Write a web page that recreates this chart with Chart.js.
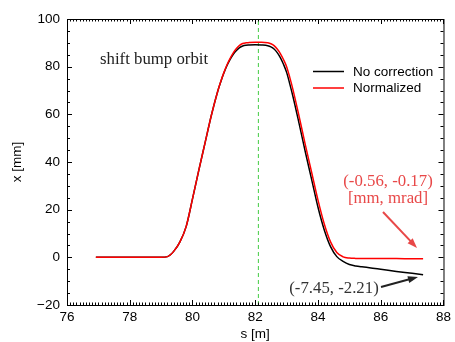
<!DOCTYPE html>
<html>
<head>
<meta charset="utf-8">
<script src="https://cdn.jsdelivr.net/npm/chart.js@4.4.1/dist/chart.umd.min.js"></script>
<style>
html,body{margin:0;padding:0;background:#fff;}
</style>
</head>
<body>
<canvas id="orbit" width="455" height="342"></canvas>
<script>
// position along the line [m]
const sPos = [76.92, 78.0, 79.0, 79.2, 79.4, 79.6, 79.8, 80.0, 80.2, 80.4, 80.6, 80.8, 80.9, 81.0, 81.1, 81.2, 81.3, 81.4, 81.5, 81.6, 81.7, 81.8, 82.0, 82.2, 82.4, 82.5, 82.6, 82.7, 82.8, 82.9, 83.0, 83.1, 83.2, 83.4, 83.6, 83.8, 84.0, 84.2, 84.4, 84.6, 84.8, 85.0, 85.2, 85.4, 86.0, 86.5, 87.0, 87.35];
// orbit x [mm]
const noCorrection = [0, 0, 0, 0.3, 2.5, 6.5, 13, 24.5, 36.5, 48, 59.5, 69.5, 73.6, 77.3, 80.5, 83.1, 85.2, 86.8, 88.0, 88.7, 89.0, 89.1, 89.2, 89.1, 88.8, 88.3, 87.4, 85.9, 83.8, 81.0, 77.6, 72.8, 67.6, 56, 44, 32.5, 21, 11.5, 4.5, 0.3, -1.7, -3.0, -3.6, -4.0, -5.0, -5.9, -6.7, -7.3];
const normalized = [0, 0, 0, 0.3, 2.5, 6.5, 13, 24.5, 36.5, 48, 59.5, 69.5, 73.8, 77.5, 80.8, 83.5, 85.8, 87.6, 88.9, 89.7, 90.0, 90.1, 90.2, 90.2, 90.0, 89.6, 88.8, 87.4, 85.5, 83.0, 80.0, 75.5, 70.5, 59, 47, 35.5, 24, 14, 6.5, 2, 0.2, -0.3, -0.45, -0.5, -0.52, -0.54, -0.55, -0.56];
const centerS = 82.1;
const xTicks = [76, 78, 80, 82, 84, 86, 88];
const yTicks = [-20, 0, 20, 40, 60, 80, 100];
const seriesNames = ['No correction', 'Normalized'];

const toPts = (ys) => ys.map((y, i) => ({x: sPos[i], y: y}));

Chart.defaults.font.family = "'Liberation Sans', Arial, sans-serif";
Chart.defaults.font.size = 13.5;
Chart.defaults.color = '#000';

function arrow(ctx, x1, y1, x2, y2, color) {
  const a = Math.atan2(y2 - y1, x2 - x1);
  const len = 10, w = 3.5;
  ctx.save();
  ctx.strokeStyle = color; ctx.fillStyle = color; ctx.lineWidth = 2;
  ctx.beginPath();
  ctx.moveTo(x1, y1);
  ctx.lineTo(x2 - len * Math.cos(a) * 0.8, y2 - len * Math.sin(a) * 0.8);
  ctx.stroke();
  ctx.beginPath();
  ctx.moveTo(x2, y2);
  ctx.lineTo(x2 - len * Math.cos(a) + w * Math.sin(a), y2 - len * Math.sin(a) - w * Math.cos(a));
  ctx.lineTo(x2 - len * Math.cos(a) - w * Math.sin(a), y2 - len * Math.sin(a) + w * Math.cos(a));
  ctx.closePath();
  ctx.fill();
  ctx.restore();
}

// frame with inward ticks, axis titles, legend and notes
const framePlugin = {
  id: 'frame',
  afterDraw(chart) {
    const ctx = chart.ctx;
    const a = chart.chartArea;
    const xs = chart.scales.x, ys = chart.scales.y;
    ctx.save();
    ctx.strokeStyle = '#000';
    ctx.lineWidth = 1;
    ctx.strokeRect(a.left + 0.5, a.top + 0.5, a.right - a.left, a.bottom - a.top);
    ctx.beginPath();
    for (let i = 760; i <= 880; i++) {
      const px = Math.round(xs.getPixelForValue(i / 10)) + 0.5;
      const l = i % 20 === 0 ? 5 : 2.5;
      ctx.moveTo(px, a.bottom); ctx.lineTo(px, a.bottom - l);
      ctx.moveTo(px, a.top); ctx.lineTo(px, a.top + l);
    }
    for (let v = -20; v <= 100; v += 5) {
      const py = Math.round(ys.getPixelForValue(v)) + 0.5;
      const l = v % 20 === 0 ? 5 : 3;
      ctx.moveTo(a.left, py); ctx.lineTo(a.left + l, py);
      ctx.moveTo(a.right, py); ctx.lineTo(a.right - l, py);
    }
    ctx.stroke();

    // axis titles
    ctx.fillStyle = '#000';
    ctx.font = "13.5px 'Liberation Sans', Arial, sans-serif";
    ctx.textAlign = 'center';
    ctx.textBaseline = 'middle';
    ctx.fillText('s [m]', (a.left + a.right) / 2, 334);
    ctx.save();
    ctx.translate(17, (a.top + a.bottom) / 2);
    ctx.rotate(-Math.PI / 2);
    ctx.fillText('x [mm]', 0, 0);
    ctx.restore();

    // legend
    ctx.textAlign = 'left';
    const legendColors = ['#000', '#ff0000'];
    [71.5, 88].forEach((y, i) => {
      ctx.strokeStyle = legendColors[i];
      ctx.lineWidth = 1.5;
      ctx.beginPath();
      ctx.moveTo(313, y); ctx.lineTo(344, y);
      ctx.stroke();
      ctx.fillStyle = '#000';
      ctx.fillText(seriesNames[i], 353, y + 0.5);
    });

    // notes
    ctx.font = "16.8px 'Liberation Serif', 'Times New Roman', serif";
    ctx.fillStyle = '#222';
    ctx.fillText('shift bump orbit', 100, 60);
    ctx.textAlign = 'center';
    ctx.fillStyle = '#e84848';
    ctx.fillText('(-0.56, -0.17)', 388, 182);
    ctx.fillText('[mm, mrad]', 388, 198.5);
    ctx.fillStyle = '#333';
    ctx.fillText('(-7.45, -2.21)', 334, 288.5);
    ctx.restore();

    arrow(ctx, 383, 212, 417, 248, '#e84848');
    arrow(ctx, 381, 287, 418, 277, '#222');
  }
};

new Chart(document.getElementById('orbit').getContext('2d'), {
  type: 'line',
  data: {
    datasets: [
      {
        label: seriesNames[1],
        data: toPts(normalized),
        borderColor: '#ff0000',
        borderWidth: 1.5,
        pointRadius: 0,
        cubicInterpolationMode: 'monotone',
        order: 0
      },
      {
        label: seriesNames[0],
        data: toPts(noCorrection),
        borderColor: '#000',
        borderWidth: 1.5,
        pointRadius: 0,
        cubicInterpolationMode: 'monotone',
        order: 1
      },
      {
        label: 'center',
        data: [{x: centerS, y: -20}, {x: centerS, y: 100}],
        borderColor: '#44cc44',
        borderWidth: 1,
        borderDash: [4, 3],
        pointRadius: 0,
        order: 2
      }
    ]
  },
  options: {
    responsive: false,
    animation: false,
    layout: { padding: { top: 19, right: 5, left: 0, bottom: 0 } },
    plugins: {
      legend: { display: false },
      tooltip: { enabled: false }
    },
    scales: {
      x: {
        type: 'linear',
        min: 76,
        max: 88,
        grid: { display: false, drawTicks: false },
        border: { display: false },
        afterBuildTicks: (s) => { s.ticks = xTicks.map(v => ({value: v})); },
        afterFit: (s) => { s.height = 37; },
        ticks: { padding: 4, maxRotation: 0, autoSkip: false }
      },
      y: {
        min: -20,
        max: 100,
        grid: { display: false, drawTicks: false },
        border: { display: false },
        afterBuildTicks: (s) => { s.ticks = yTicks.map(v => ({value: v})); },
        afterFit: (s) => { s.width = 67; },
        ticks: {
          padding: 7,
          callback: (v) => String(v).replace('-', '\u2212')
        }
      }
    }
  },
  plugins: [framePlugin]
});
</script>
</body>
</html>
